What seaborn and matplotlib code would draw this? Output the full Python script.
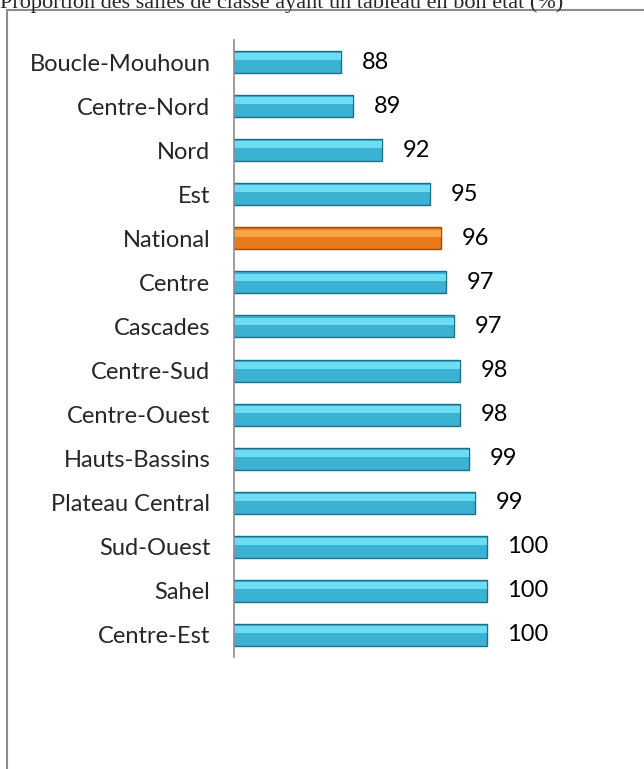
import pandas as pd
import matplotlib.pyplot as plt
import seaborn as sns
from matplotlib.patches import Rectangle

regions = ["Boucle-Mouhoun", "Centre-Nord", "Nord", "Est", "National", "Centre",
           "Cascades", "Centre-Sud", "Centre-Ouest", "Hauts-Bassins", "Plateau Central",
           "Sud-Ouest", "Sahel", "Centre-Est"]
values = [88.5, 89.4, 91.7, 95.5, 96.4, 96.8, 97.4, 97.9, 97.9, 98.6, 99.1, 100, 100, 100]
labels = [88, 89, 92, 95, 96, 97, 97, 98, 98, 99, 99, 100, 100, 100]

df = pd.DataFrame({"region": regions, "value": values})
palette = {r: ("#E97A1C" if r == "National" else "#3BB2D2") for r in regions}
light = ["#F7A445" if r == "National" else "#6CDDF3" for r in regions]

sns.set_style("white")
plt.rcParams["font.family"] = ["Lato", "DejaVu Sans"]

fig = plt.figure(figsize=(6.44, 7.69), dpi=100)
ax = fig.add_axes([234 / 644, 1 - 657 / 769, (613 - 234) / 644, (657 - 40) / 769])

sns.barplot(data=df, x="value", y="region", hue="region", palette=palette,
            orient="h", width=0.5, legend=False, ax=ax, saturation=1)
for bar, r in zip(ax.patches, regions):
    bar.set_edgecolor("#9A4B0C" if r == "National" else "#1E6E86")
    bar.set_linewidth(1.0)

# light band on the upper part of each bar for the bevel look
ax.barh([i - 0.12 for i in range(len(regions))], [v - 80 for v in values], left=80,
        height=0.16, color=light, linewidth=0)

for i, (v, lab) in enumerate(zip(values, labels)):
    ax.annotate(str(lab), xy=(v, i), xytext=(15, 0), textcoords="offset points",
                va="center", ha="left", fontsize=17, color="black")

ax.set_xlim(80, 110)
ax.set_ylim(13.5, -0.5)
ax.set_xlabel("")
ax.set_ylabel("")
ax.set_xticks([])
for s in ["top", "right", "bottom"]:
    ax.spines[s].set_visible(False)
ax.spines["left"].set_color("#8C8C8C")
ax.spines["left"].set_linewidth(1.2)
ax.set_yticks([i - 0.5 for i in range(len(regions) + 1)], minor=True)
ax.tick_params(axis="y", which="minor", length=7, color="#8C8C8C", width=1.2, direction="out")
ax.tick_params(axis="y", which="major", length=0, pad=17, labelsize=17)

# outer frame of the chart area
fig.patches.append(Rectangle((7 / 644, -0.05), 1.0, 1 - 10 / 769 + 0.05,
                             transform=fig.transFigure, fill=False,
                             edgecolor="#8C8C8C", linewidth=1.5))
fig.text(0.0, 1 - 8 / 769, "Proportion des salles de classe ayant un tableau en bon état (%)",
         family="Liberation Serif", fontsize=16, va="baseline", ha="left")

fig.savefig("out.png", dpi=100)
